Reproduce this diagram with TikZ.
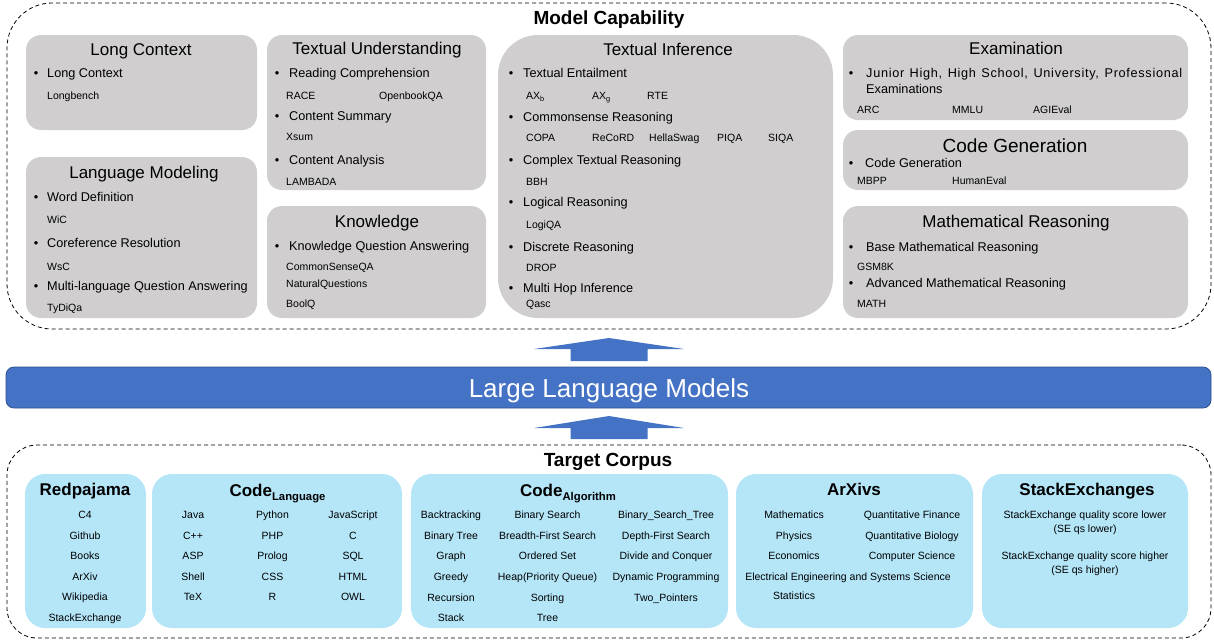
\documentclass[tikz,border=0pt]{standalone}
\usepackage{fontspec}
\setmainfont{Liberation Sans}
\usetikzlibrary{fit}
\definecolor{gboxc}{RGB}{208,206,206}
\definecolor{lblue}{RGB}{180,230,248}
\definecolor{llmblue}{RGB}{68,114,196}
\definecolor{llmedge}{RGB}{47,82,143}
\begin{document}
\begin{tikzpicture}[x=1pt,y=-1pt,
  gbox/.style={fill=gboxc, inner sep=0pt, rounded corners=15pt},
  bbox/.style={fill=lblue, inner sep=0pt, rounded corners=20pt},
  dbox/.style={draw=black, line width=0.8pt, dash pattern=on 4pt off 3pt, inner sep=0pt},
  ttl/.style={font=\fontsize{17}{20}\selectfont, text height=12.2pt, text depth=0pt, inner sep=0pt},
  bigttl/.style={font=\fontsize{19}{22}\selectfont, text height=13.6pt, text depth=0pt, inner sep=0pt},
  bttl/.style={font=\bfseries\fontsize{17}{20}\selectfont, text height=12.2pt, text depth=0pt, inner sep=0pt},
  bbig/.style={font=\bfseries\fontsize{19}{22}\selectfont, text height=13.6pt, text depth=0pt, inner sep=0pt},
  itm/.style={font=\fontsize{12.7}{15}\selectfont, anchor=west, text height=9.1pt, text depth=0pt, inner sep=0pt},
  bul/.style={font=\fontsize{12.7}{15}\selectfont, text height=9.1pt, text depth=0pt, inner sep=0pt},
  ds/.style={font=\fontsize{10.5}{12}\selectfont, anchor=west, text height=7.5pt, text depth=0pt, inner sep=0pt},
  lbl/.style={font=\fontsize{10.5}{12}\selectfont, text height=7.5pt, text depth=0pt, inner sep=0pt}
]
\useasboundingbox (0,0) rectangle (1214,641);

% ---------- Model capability ----------
\node[dbox, rounded corners=45pt, fit={(7,3) (1211,329)}] (cap) {};
\node[bbig] (captitle) at (609,18) {Model Capability};

\node[gbox, fit={(26,35) (257,130)}] (lc) {};
\node[gbox, fit={(26,157) (257,318)}] (lm) {};
\node[gbox, fit={(267,35) (486,190)}] (tu) {};
\node[gbox, fit={(267,206) (486,318)}] (kn) {};
\node[gbox, rounded corners=40pt, fit={(498,35) (833,318)}] (ti) {};
\node[gbox, fit={(843,35) (1188,120)}] (ex) {};
\node[gbox, fit={(843,130) (1188,190)}] (cg) {};
\node[gbox, fit={(843,206) (1188,318)}] (mr) {};

% Long Context
\node[ttl] (lct) at (141,49) {Long Context};
\node[bul] (lcb1) at (36,73) {•};
\node[itm] (lci1) at (47,73) {Long Context};
\node[ds] (lcd1) at (47,96) {Longbench};

% Language Modeling
\node[ttl] (lmt) at (144,172) {Language Modeling};
\node[bul] (lmb1) at (36,197) {•};
\node[itm] (lmi1) at (47,197) {Word Definition};
\node[ds] (lmd1) at (47,220) {WiC};
\node[bul] (lmb2) at (36,243) {•};
\node[itm] (lmi2) at (47,243) {Coreference Resolution};
\node[ds] (lmd2) at (47,267) {WsC};
\node[bul] (lmb3) at (36,286) {•};
\node[itm] (lmi3) at (47,286) {Multi-language Question Answering};
\node[ds] (lmd3) at (47,308) {TyDiQa};

% Textual Understanding
\node[ttl] (tut) at (377,48) {Textual Understanding};
\node[bul] (tub1) at (277,73) {•};
\node[itm] (tui1) at (289,73) {Reading Comprehension};
\node[ds] (tud1) at (286,96) {RACE};
\node[ds] (tud2) at (379,96) {OpenbookQA};
\node[bul] (tub2) at (277,116) {•};
\node[itm] (tui2) at (289,116) {Content Summary};
\node[ds] (tud3) at (286,137) {Xsum};
\node[bul] (tub3) at (277,160) {•};
\node[itm] (tui3) at (289,160) {Content Analysis};
\node[ds] (tud4) at (286,182) {LAMBADA};

% Knowledge
\node[ttl] (knt) at (377,221) {Knowledge};
\node[bul] (knb1) at (277,246) {•};
\node[itm] (kni1) at (289,246) {Knowledge Question Answering};
\node[ds] (knd1) at (286,267) {CommonSenseQA};
\node[ds] (knd2) at (286,284) {NaturalQuestions};
\node[ds] (knd3) at (286,304) {BoolQ};

% Textual Inference
\node[ttl] (tit) at (668,49) {Textual Inference};
\node[bul] (tib1) at (511,73) {•};
\node[itm] (tii1) at (523,73) {Textual Entailment};
\node[ds] (tid1) at (526,96) {AX\textsubscript{b}};
\node[ds] (tid2) at (592,96) {AX\textsubscript{g}};
\node[ds] (tid3) at (647,96) {RTE};
\node[bul] (tib2) at (511,117) {•};
\node[itm] (tii2) at (523,117) {Commonsense Reasoning};
\node[ds] (tid4) at (526,138) {COPA};
\node[ds] (tid5) at (592,138) {ReCoRD};
\node[ds] (tid6) at (649,138) {HellaSwag};
\node[ds] (tid7) at (717,138) {PIQA};
\node[ds] (tid8) at (768,138) {SIQA};
\node[bul] (tib3) at (511,160) {•};
\node[itm] (tii3) at (523,160) {Complex Textual Reasoning};
\node[ds] (tid9) at (526,182) {BBH};
\node[bul] (tib4) at (511,202) {•};
\node[itm] (tii4) at (523,202) {Logical Reasoning};
\node[ds] (tid10) at (526,225) {LogiQA};
\node[bul] (tib5) at (511,247) {•};
\node[itm] (tii5) at (523,247) {Discrete Reasoning};
\node[ds] (tid11) at (526,268) {DROP};
\node[bul] (tib6) at (511,288) {•};
\node[itm] (tii6) at (523,288) {Multi Hop Inference};
\node[ds] (tid12) at (526,304) {Qasc};

% Examination
\node[ttl] (ext) at (1016,48) {Examination};
\node[bul] (exb1) at (851,73) {•};
\node[itm] (exi1) at (866,73) {\addfontfeature{LetterSpace=5.5}\makebox[316pt][s]{Junior High, High School, University, Professional}};
\node[itm] (exi2) at (866,89) {Examinations};
\node[ds] (exd1) at (857,110) {ARC};
\node[ds] (exd2) at (952,110) {MMLU};
\node[ds] (exd3) at (1033,110) {AGIEval};

% Code Generation
\node[bigttl] (cgt) at (1015,146) {Code Generation};
\node[bul] (cgb1) at (851,163) {•};
\node[itm] (cgi1) at (865,163) {Code Generation};
\node[ds] (cgd1) at (857,181) {MBPP};
\node[ds] (cgd2) at (952,181) {HumanEval};

% Mathematical Reasoning
\node[ttl] (mrt) at (1016,221) {Mathematical Reasoning};
\node[bul] (mrb1) at (851,247) {•};
\node[itm] (mri1) at (866,247) {Base Mathematical Reasoning};
\node[ds] (mrd1) at (857,267) {GSM8K};
\node[bul] (mrb2) at (851,283) {•};
\node[itm] (mri2) at (866,283) {Advanced Mathematical Reasoning};
\node[ds] (mrd2) at (857,304) {MATH};

% ---------- Large Language Models ----------
\node[fill=llmblue, draw=llmedge, line width=0.8pt, rounded corners=8pt, inner sep=0pt, fit={(6,367) (1211,408)}] (llm) {};
\node[font=\fontsize{26}{30}\selectfont, text=white, inner sep=0pt, text height=18.6pt, text depth=0pt] (llmt) at (609,388) {Large Language Models};

% block arrows
\coordinate (up1) at (609,338);
\fill[llmblue] (up1) -- ++(75,11) -- ++(-36.5,0) -- ++(0,12) -- ++(-77,0) -- ++(0,-12) -- ++(-36.5,0) -- cycle;
\coordinate (up2) at (609,416);
\fill[llmblue] (up2) -- ++(75,12) -- ++(-36.5,0) -- ++(0,11) -- ++(-77,0) -- ++(0,-11) -- ++(-36.5,0) -- cycle;

% ---------- Target corpus ----------
\node[dbox, rounded corners=30pt, fit={(7,445) (1211,638)}] (tc) {};
\node[bbig] (tctitle) at (608,460) {Target Corpus};

\node[bbox, fit={(25,474) (146,628)}] (rp) {};
\node[bbox, fit={(152,474) (402,628)}] (cl) {};
\node[bbox, fit={(411,474) (728,628)}] (ca) {};
\node[bbox, fit={(736,474) (973,628)}] (ax) {};
\node[bbox, fit={(982,474) (1188,628)}] (se) {};

% Redpajama
\node[bttl] (rpt) at (85,489) {Redpajama};
\foreach \t [count=\i] in {C4,Github,Books,ArXiv,Wikipedia,StackExchange}
  \node[lbl] (rp\i) at (85,{515+20.5*(\i-1)}) {\t};

% Code Language
\node[bttl] (clt) at (277.5,490) {Code\raisebox{-4.5pt}{\fontsize{11.3}{13}\selectfont Language}};
\foreach \a/\b/\c [count=\i] in {Java/Python/JavaScript, C++/PHP/C, ASP/Prolog/SQL, Shell/CSS/HTML, TeX/R/OWL} {
  \node[lbl] (cla\i) at (193,{515+20.5*(\i-1)}) {\a};
  \node[lbl] (clb\i) at (272.5,{515+20.5*(\i-1)}) {\b};
  \node[lbl] (clc\i) at (353,{515+20.5*(\i-1)}) {\c};
}

% Code Algorithm
\node[bttl] (cat) at (568,490) {Code\raisebox{-4.5pt}{\fontsize{11.3}{13}\selectfont Algorithm}};
\foreach \a/\b/\c [count=\i] in {Backtracking/Binary Search/Binary\_Search\_Tree, Binary Tree/Breadth-First Search/Depth-First Search, Graph/Ordered Set/Divide and Conquer, Greedy/Heap(Priority Queue)/Dynamic Programming, Recursion/Sorting/Two\_Pointers} {
  \node[lbl] (caa\i) at (451,{515+20.6*(\i-1)}) {\a};
  \node[lbl] (cab\i) at (547.5,{515+20.6*(\i-1)}) {\b};
  \node[lbl] (cac\i) at (666,{515+20.6*(\i-1)}) {\c};
}
\node[lbl] (caa6) at (451,618) {Stack};
\node[lbl] (cab6) at (547.5,618) {Tree};

% ArXivs
\node[bttl] (axt) at (854,489) {ArXivs};
\node[lbl] (ax1) at (794,515) {Mathematics};
\node[lbl] (ax2) at (912,515) {Quantitative Finance};
\node[lbl] (ax3) at (794,536) {Physics};
\node[lbl] (ax4) at (912,536) {Quantitative Biology};
\node[lbl] (ax5) at (794,556) {Economics};
\node[lbl] (ax6) at (912,556) {Computer Science};
\node[lbl] (ax7) at (848,577) {Electrical Engineering and Systems Science};
\node[lbl] (ax8) at (794,596) {Statistics};

% StackExchanges
\node[bttl] (set) at (1087,489) {StackExchanges};
\node[lbl] (se1) at (1085,515) {StackExchange quality score lower};
\node[lbl] (se2) at (1085,529) {(SE qs lower)};
\node[lbl] (se3) at (1085,556) {StackExchange quality score higher};
\node[lbl] (se4) at (1085,570) {(SE qs higher)};
\end{tikzpicture}
\end{document}
